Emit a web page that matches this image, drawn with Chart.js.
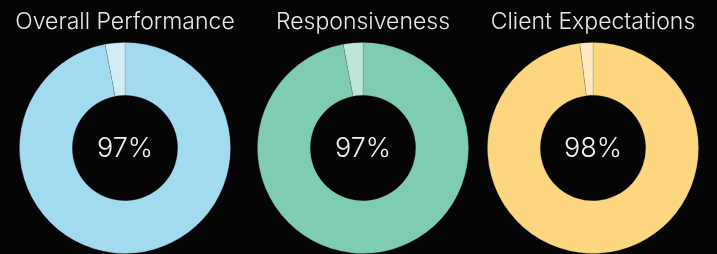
<!DOCTYPE html>
<html>
<head>
<meta charset="utf-8">
<script src="https://cdn.jsdelivr.net/npm/chart.js@4"></script>
<style>
  html, body { margin: 0; padding: 0; background: #050505; }
  body { width: 717px; height: 254px; position: relative; overflow: hidden; }
  .chart-box { position: absolute; top: 0; width: 234px; height: 254px; }
</style>
</head>
<body>
<div class="chart-box" style="left:8px"><canvas id="c0"></canvas></div>
<div class="chart-box" style="left:246px"><canvas id="c1"></canvas></div>
<div class="chart-box" style="left:476px"><canvas id="c2"></canvas></div>
<script>
const titles = ['Overall Performance', 'Responsiveness', 'Client Expectations'];
const scores = [97, 97, 98];
const remaining = [3, 3, 2];
const mainColors = ['#a2dbf0', '#7ecdb0', '#fdd780'];
const lightColors = ['#cfecf7', '#bde6d7', '#feeabf'];

// draws the percentage in the hole of the doughnut
const centerText = {
  id: 'centerText',
  afterDraw(chart) {
    const arc = chart.getDatasetMeta(0).data[0];
    if (!arc) return;
    const ctx = chart.ctx;
    ctx.save();
    ctx.fillStyle = '#f2f2f2';
    ctx.font = '300 27px Inter, "Open Sans", sans-serif';
    ctx.textAlign = 'center';
    ctx.textBaseline = 'middle';
    ctx.fillText(chart.data.datasets[0].data[0] + '%', arc.x, arc.y + 1);
    ctx.restore();
  },
};

titles.forEach((title, i) => {
  const ctx = document.getElementById('c' + i).getContext('2d');
  new Chart(ctx, {
    type: 'doughnut',
    data: {
      labels: ['Score', 'Remaining'],
      datasets: [
        {
          data: [scores[i], remaining[i]],
          backgroundColor: [mainColors[i], lightColors[i]],
          borderColor: 'rgba(90,90,90,0.22)',
          borderWidth: 1,
        },
      ],
    },
    options: {
      responsive: true,
      maintainAspectRatio: false,
      animation: false,
      cutout: '50%',
      layout: { padding: 0 },
      plugins: {
        legend: { display: false },
        tooltip: { enabled: false },
        title: {
          display: true,
          text: title,
          color: '#e8e8e8',
          font: { family: 'Inter, "Open Sans", sans-serif', size: 23, weight: '300', lineHeight: 1.2 },
          padding: { top: 8, bottom: 6.4 },
        },
      },
    },
    plugins: [centerText],
  });
});
</script>
</body>
</html>
